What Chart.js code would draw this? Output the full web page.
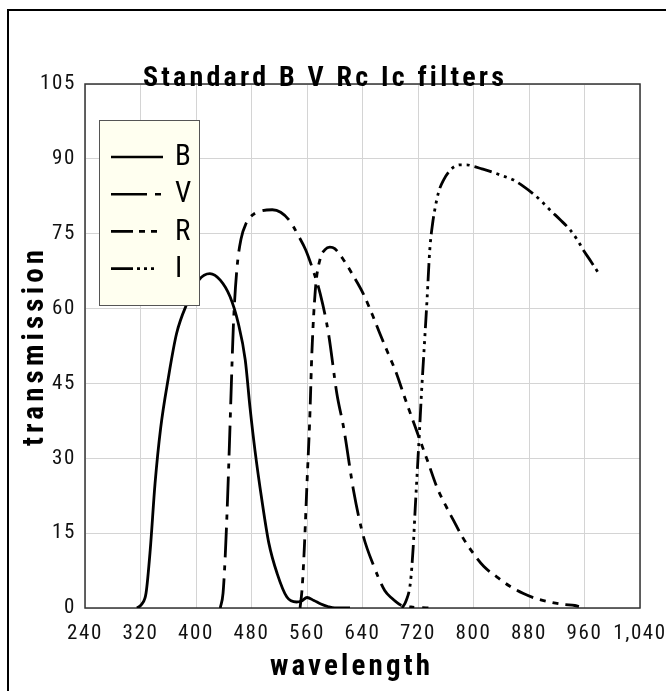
<!DOCTYPE html>
<html lang="en">

<head>
    <meta charset="UTF-8">
    <title>Standard B V Rc Ic filters</title>
    <script src="https://cdn.jsdelivr.net/npm/chart.js"></script>
    <style>
        body { margin: 0; background: #fff; }
    </style>
</head>

<body>
    <canvas id="filterChart" width="666" height="691"></canvas>

    <script>
        // filter curves: wavelength (nm) and transmission (%)
        const bWave = [315, 322, 328, 334, 341, 349, 360, 372, 387, 404, 420, 435, 449, 461, 471, 478, 485, 495, 505, 517, 531, 545, 552, 560, 570, 580, 590, 600, 622];
        const bTrans = [0, 0.8, 3, 11.6, 25, 36, 46, 55, 61, 65.7, 67, 65.7, 62.4, 57, 49.7, 40, 31.6, 21.6, 13, 6.9, 2.2, 1.2, 1.4, 2.1, 1.5, 0.8, 0.3, 0, 0];

        const vWave = [435, 439, 442, 445, 448, 451, 454, 459, 465, 472, 482, 495, 510, 522, 535, 548, 558, 568, 579, 591, 603, 613, 627, 641, 656, 672, 682, 695, 710, 735];
        const vTrans = [0, 3, 10, 20, 32, 45, 57, 68, 74, 77, 78.8, 79.6, 79.8, 79.3, 77.6, 74.5, 71.8, 68, 63, 55, 43, 36, 23.6, 14.5, 8.5, 3.5, 2, 0.6, 0.2, 0];

        const rWave = [550, 553, 556, 560, 564, 567, 572, 579, 586, 593, 600, 613, 627, 641, 655, 665, 677, 689, 700, 709, 723, 735, 747, 760, 771, 785, 800, 815, 834, 852, 872, 890, 910, 930, 946, 952];
        const rTrans = [0, 4, 11.6, 25, 38, 51, 63.7, 70, 71.8, 72.3, 72, 69.7, 66.5, 63, 58.5, 55, 51, 47, 42.5, 39, 33.6, 29, 24.3, 20.5, 17.6, 14, 10.9, 8.3, 6.2, 4.4, 2.9, 1.9, 1.2, 0.7, 0.5, 0.3];

        const iWave = [697, 703, 709, 713, 716, 719, 722, 725, 728, 733, 737, 741, 745, 750, 757, 765, 773, 781, 790, 800, 812, 824, 840, 857, 872, 886, 898, 910, 925, 939, 950, 958, 970, 982];
        const iTrans = [0, 1.5, 5, 12, 20, 27.5, 35, 43, 50, 61.7, 71.8, 77, 80.4, 83.5, 85.8, 87.5, 88.5, 88.8, 88.8, 88.5, 88, 87.5, 86.7, 85.8, 84.5, 83, 81.5, 79.8, 77.8, 75.8, 73.7, 71.8, 69.3, 66.7];

        const filterNames = ['B', 'V', 'R', 'I'];
        const xTicks = [240, 320, 400, 480, 560, 640, 720, 800, 880, 960, 1040];
        const yTicks = [0, 15, 30, 45, 60, 75, 90, 105];

        const FONT = "'Roboto Condensed', 'DejaVu Sans Condensed', sans-serif";
        // solid, long-short, long-short-short, long-dot-dot-dot
        const dashes = [[], [30, 8, 5, 8], [18, 7, 6, 7, 6, 7], [18, 5, 3, 5, 3, 5, 3, 5]];
        const legendDashes = [[], [36, 8, 6, 100], [22, 6, 6, 6, 6, 100], [22, 4, 3, 4, 3, 4, 3, 100]];

        function toPoints(xs, ys) {
            return xs.map((x, i) => ({ x: x, y: ys[i] }));
        }

        // spread letters so a string fills a given width
        function spacedText(ctx, text, cx, cy, width) {
            ctx.letterSpacing = '0px';
            const w = ctx.measureText(text).width;
            const gap = (width - w) / (text.length - 1);
            ctx.letterSpacing = gap + 'px';
            ctx.textAlign = 'left';
            ctx.fillText(text, cx - width / 2, cy);
            ctx.letterSpacing = '0px';
        }

        const framePlugin = {
            id: 'frame',
            beforeDraw(chart) {
                const ctx = chart.ctx;
                ctx.save();
                ctx.fillStyle = '#fff';
                ctx.fillRect(0, 0, chart.width, chart.height);
                ctx.strokeStyle = '#000';
                ctx.lineWidth = 2;
                ctx.beginPath();
                ctx.moveTo(8, 700);
                ctx.lineTo(8, 10);
                ctx.lineTo(700, 10);
                ctx.stroke();
                ctx.restore();
                // spaced-out tick labels
                ctx.letterSpacing = '1.6px';
            },
            beforeDatasetsDraw(chart) {
                const a = chart.chartArea;
                const ctx = chart.ctx;
                ctx.save();
                ctx.strokeStyle = '#333';
                ctx.lineWidth = 1.5;
                ctx.strokeRect(a.left, a.top, a.right - a.left, a.bottom - a.top);
                ctx.restore();
            },
            afterDraw(chart) {
                const ctx = chart.ctx;
                ctx.save();
                ctx.fillStyle = '#000';
                ctx.textBaseline = 'alphabetic';

                ctx.font = 'bold 28px ' + FONT;
                spacedText(ctx, 'Standard B V Rc Ic filters', 323, 86, 360);

                ctx.font = 'bold 29px ' + FONT;
                ctx.textBaseline = 'middle';
                spacedText(ctx, 'wavelength', 350, 668, 160);

                ctx.translate(36, 348);
                ctx.rotate(-Math.PI / 2);
                spacedText(ctx, 'transmission', 0, 0, 196);
                ctx.restore();

                // legend box
                ctx.save();
                ctx.fillStyle = '#fffff0';
                ctx.fillRect(99, 120, 100, 185);
                ctx.strokeStyle = '#555';
                ctx.lineWidth = 1;
                ctx.strokeRect(99.5, 120.5, 100, 185);
                ctx.font = '29px ' + FONT;
                ctx.textBaseline = 'middle';
                ctx.textAlign = 'left';
                ctx.fillStyle = '#000';
                chart.data.datasets.forEach((ds, i) => {
                    const y = 157 + i * 37.2;
                    ctx.strokeStyle = '#000';
                    ctx.lineWidth = 2.6;
                    ctx.setLineDash(legendDashes[i]);
                    ctx.beginPath();
                    ctx.moveTo(111, y);
                    ctx.lineTo(163, y);
                    ctx.stroke();
                    ctx.setLineDash([]);
                    ctx.fillText(ds.label, 175, y + 1);
                });
                ctx.restore();
            }
        };

        const seriesData = [[bWave, bTrans], [vWave, vTrans], [rWave, rTrans], [iWave, iTrans]];

        new Chart(document.getElementById('filterChart').getContext('2d'), {
            type: 'line',
            data: {
                datasets: seriesData.map((s, i) => ({
                    label: filterNames[i],
                    data: toPoints(s[0], s[1]),
                    borderColor: '#000',
                    borderWidth: 2.8,
                    borderDash: dashes[i],
                    pointRadius: 0,
                    fill: false,
                    cubicInterpolationMode: 'monotone'
                }))
            },
            options: {
                responsive: false,
                animation: false,
                devicePixelRatio: 1,
                layout: { padding: { left: 0, top: 84, right: 26, bottom: 0 } },
                plugins: {
                    legend: { display: false },
                    title: { display: false },
                    tooltip: { enabled: false }
                },
                scales: {
                    x: {
                        type: 'linear',
                        min: xTicks[0],
                        max: xTicks[xTicks.length - 1],
                        afterBuildTicks: (axis) => { axis.ticks = xTicks.map(v => ({ value: v })); },
                        afterFit: (axis) => { axis.height = 83; axis.paddingLeft = 0; axis.paddingRight = 0; },
                        grid: { color: '#d4d4d4', lineWidth: 1, drawTicks: false },
                        border: { display: false },
                        ticks: { color: '#111', font: { family: FONT, size: 21 }, padding: 13, maxRotation: 0, autoSkip: false }
                    },
                    y: {
                        min: yTicks[0],
                        max: yTicks[yTicks.length - 1],
                        afterBuildTicks: (axis) => { axis.ticks = yTicks.map(v => ({ value: v })); },
                        afterFit: (axis) => { axis.width = 85; axis.paddingTop = 0; axis.paddingBottom = 0; },
                        grid: { color: '#d4d4d4', lineWidth: 1, drawTicks: false },
                        border: { display: false },
                        ticks: { color: '#111', font: { family: FONT, size: 21 }, padding: 9 }
                    }
                }
            },
            plugins: [framePlugin]
        });
    </script>
</body>

</html>
